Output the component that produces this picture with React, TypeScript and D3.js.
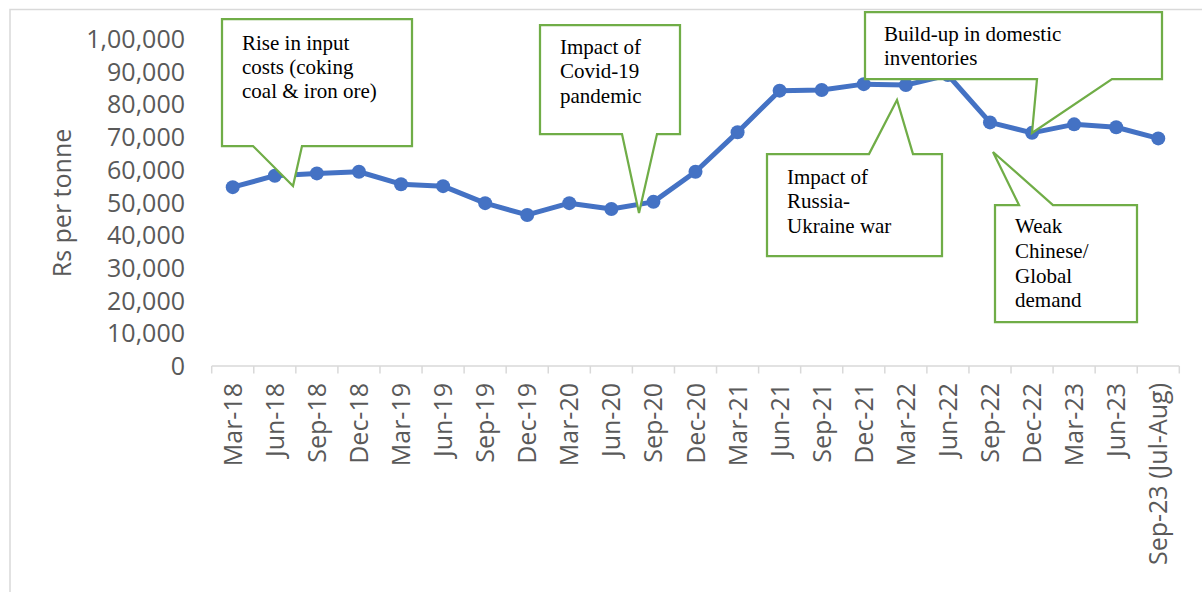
import React from "react";
import * as d3 from "d3";

const categories: string[] = [
  "Mar-18", "Jun-18", "Sep-18", "Dec-18",
  "Mar-19", "Jun-19", "Sep-19", "Dec-19",
  "Mar-20", "Jun-20", "Sep-20", "Dec-20",
  "Mar-21", "Jun-21", "Sep-21", "Dec-21",
  "Mar-22", "Jun-22", "Sep-22", "Dec-22",
  "Mar-23", "Jun-23", "Sep-23 (Jul-Aug)",
];

const prices: number[] = [
  54700, 58200, 58900, 59400,
  55600, 55000, 49800, 46200,
  49800, 48000, 50200, 59400,
  71500, 84200, 84400, 86200,
  85900, 89000, 74500, 71300,
  73900, 73000, 69600,
];

const yTicks: number[] = [0, 10000, 20000, 30000, 40000, 50000, 60000, 70000, 80000, 90000, 100000];

const yTitle = "Rs per tonne";

// Annotation callouts: text lines plus box geometry (layout only)
const calloutTexts: string[][] = [
  ["Rise in input", "costs (coking", "coal & iron ore)"],
  ["Impact of", "Covid-19", "pandemic"],
  ["Impact of", "Russia-", "Ukraine war"],
  ["Build-up in domestic", "inventories"],
  ["Weak", "Chinese/", "Global", "demand"],
];

type Box = {
  x0: number; y0: number; x1: number; y1: number;
  side: "top" | "bottom"; b1: number; b2: number; tx: number; ty: number;
  textX: number; firstBase: number; lineH: number;
};

const calloutBoxes: Box[] = [
  { x0: 222, y0: 19, x1: 412, y1: 146, side: "bottom", b1: 253, b2: 302, tx: 293, ty: 186, textX: 242, firstBase: 49.5, lineH: 24 },
  { x0: 540, y0: 25, x1: 680, y1: 134, side: "bottom", b1: 622, b2: 657, tx: 639, ty: 213, textX: 560, firstBase: 54, lineH: 24.4 },
  { x0: 767, y0: 154, x1: 942, y1: 256, side: "top", b1: 869, b2: 913, tx: 897, ty: 100, textX: 787, firstBase: 183.5, lineH: 24.5 },
  { x0: 865, y0: 12, x1: 1162, y1: 79, side: "bottom", b1: 1037, b2: 1112, tx: 1032, ty: 133, textX: 884, firstBase: 40.7, lineH: 24.3 },
  { x0: 995, y0: 205, x1: 1137, y1: 322, side: "top", b1: 1019, b2: 1053, tx: 993, ty: 152, textX: 1015, firstBase: 233.3, lineH: 24.7 },
];

function calloutPath(b: Box): string {
  const p = d3.path();
  if (b.side === "bottom") {
    p.moveTo(b.x0, b.y0);
    p.lineTo(b.x1, b.y0);
    p.lineTo(b.x1, b.y1);
    p.lineTo(b.b2, b.y1);
    p.lineTo(b.tx, b.ty);
    p.lineTo(b.b1, b.y1);
    p.lineTo(b.x0, b.y1);
    p.closePath();
  } else {
    p.moveTo(b.x0, b.y0);
    p.lineTo(b.b1, b.y0);
    p.lineTo(b.tx, b.ty);
    p.lineTo(b.b2, b.y0);
    p.lineTo(b.x1, b.y0);
    p.lineTo(b.x1, b.y1);
    p.lineTo(b.x0, b.y1);
    p.closePath();
  }
  return p.toString();
}

const W = 1202;
const H = 592;
const plotLeft = 211.7;
const plotRight = 1179.3;
const plotTop = 39;
const plotBottom = 366;

const axisColor = "#d9d9d9";
const textColor = "#595959";
const lineColor = "#4472C4";
const green = "#70AD47";
const sansFont = "'Open Sans', 'Noto Sans', sans-serif";
const serifFont = "'Liberation Serif', 'Times New Roman', serif";

export default function App() {
  const x = d3.scaleBand<string>().domain(categories).range([plotLeft, plotRight]).padding(0);
  const y = d3.scaleLinear().domain([0, 100000]).range([plotBottom, plotTop]);
  const cx = (c: string) => (x(c) as number) + x.bandwidth() / 2;
  const fmt = (v: number) => v.toLocaleString("en-IN");

  const data = categories.map((c, i) => ({ c, v: prices[i] }));
  const line = d3
    .line<{ c: string; v: number }>()
    .x((d) => cx(d.c))
    .y((d) => y(d.v));

  const boundaries = categories.map((c) => x(c) as number).concat([plotRight]);

  return (
    <svg
      width={W}
      height={H}
      style={{ position: "absolute", left: 0, top: 0, background: "#fff" }}
    >
      <rect x={0} y={0} width={W} height={H} fill="#fff" />
      <rect x={10} y={9.5} width={1250} height={700} fill="none" stroke={axisColor} strokeWidth={1.5} />

      {/* y tick labels */}
      {yTicks.map((t) => (
        <text
          key={t}
          x={185}
          y={y(t)}
          dy="0.36em"
          textAnchor="end"
          fontFamily={sansFont}
          fontSize={25}
          fill={textColor}
        >
          {fmt(t)}
        </text>
      ))}

      {/* y title */}
      <text
        transform={`translate(71, 203) rotate(-90)`}
        textAnchor="middle"
        fontFamily={sansFont}
        fontSize={25}
        fill={textColor}
      >
        {yTitle}
      </text>

      {/* x axis */}
      <line x1={plotLeft} x2={plotRight} y1={plotBottom} y2={plotBottom} stroke={axisColor} strokeWidth={1.5} />
      {boundaries.map((bx, i) => (
        <line key={i} x1={bx} x2={bx} y1={plotBottom} y2={plotBottom + 7.5} stroke={axisColor} strokeWidth={1.5} />
      ))}
      {categories.map((c) => (
        <text
          key={c}
          transform={`translate(${cx(c)}, 383) rotate(-90)`}
          textAnchor="end"
          dy="0.36em"
          fontFamily={sansFont}
          fontSize={25}
          fill={textColor}
        >
          {c}
        </text>
      ))}

      {/* series */}
      <path d={line(data) as string} fill="none" stroke={lineColor} strokeWidth={5} strokeLinejoin="round" strokeLinecap="round" />
      {data.map((d) => (
        <circle key={d.c} cx={cx(d.c)} cy={y(d.v)} r={7} fill={lineColor} />
      ))}

      {/* callouts */}
      {calloutBoxes.map((b, i) => (
        <g key={i}>
          <path d={calloutPath(b)} fill="#fff" stroke={green} strokeWidth={2.25} strokeLinejoin="miter" />
          {calloutTexts[i].map((t, j) => (
            <text
              key={j}
              x={b.textX}
              y={b.firstBase + j * b.lineH}
              fontFamily={serifFont}
              fontSize={21}
              fill="#000"
            >
              {t}
            </text>
          ))}
        </g>
      ))}
    </svg>
  );
}
